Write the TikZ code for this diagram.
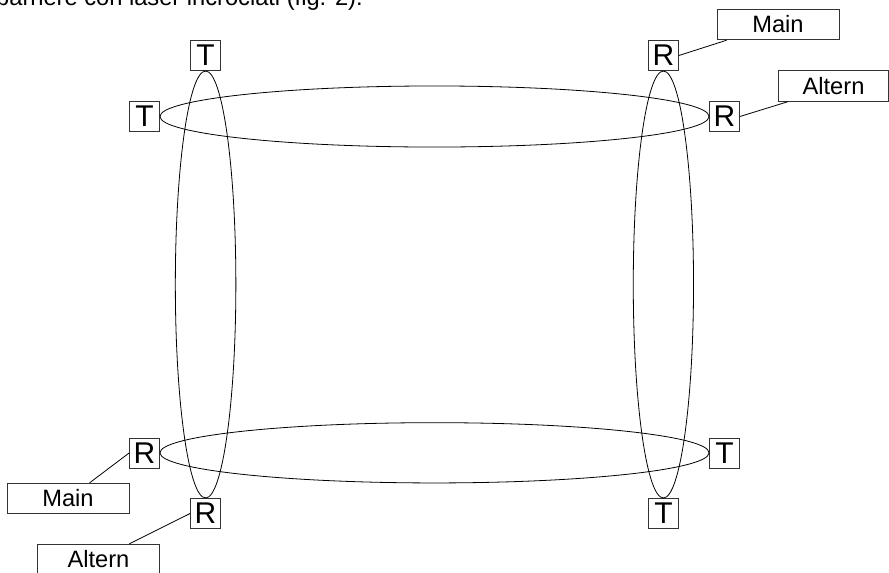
\documentclass[tikz,border=0pt]{standalone}
\usepackage{fontspec}
\setmainfont{Liberation Sans}
\usetikzlibrary{positioning}
\tikzset{
	unit/.style={rectangle, draw=black!80, line width=0.6pt, minimum width=22.5pt, minimum height=22.5pt, inner sep=0pt, font=\fontsize{22.5}{24}\selectfont},
	tag/.style={rectangle, draw=black!80, line width=0.6pt, minimum width=91.5pt, minimum height=23pt, inner sep=0pt, font=\fontsize{17.75}{20}\selectfont},
	beam/.style={draw=black, line width=0.6pt},
	link/.style={draw=black, line width=0.6pt},
}

\begin{document}
\begin{tikzpicture}[x=0.75pt, y=-0.75pt]
		\useasboundingbox (0,0) rectangle (889,572);
		\begin{scope}
			\clip (0,0) rectangle (889,572);
			\node[anchor=base east, inner sep=0pt, font=\fontsize{17.75}{20}\selectfont] (caption) at (363,5) {barriere con laser incrociati (fig. 2).};
			% transmitter / receiver units
			\node[unit] (tt) at (205.5,55.5) {T};
			\node[unit] (tl) at (144.5,116.5) {T};
			\node[unit] (rt) at (663.5,55.5) {R};
			\node[unit] (rr) at (724.5,116.5) {R};
			\node[unit] (rl) at (144.5,453) {R};
			\node[unit] (rb) at (205.5,513.5) {R};
			\node[unit] (tr) at (724.5,453) {T};
			\node[unit] (tb) at (663.5,513.5) {T};
			% beams
			\draw[beam] (434.5,116.5) ellipse [x radius=205.9pt, y radius=22.9pt];
			\draw[beam] (434.5,452.8) ellipse [x radius=205.9pt, y radius=22.6pt];
			\draw[beam] (205.6,284.5) ellipse [x radius=22.7pt, y radius=160.1pt];
			\draw[beam] (663.4,284.5) ellipse [x radius=22.6pt, y radius=160.1pt];
			% labels
			\node[tag] (mainr) at (778,24.5) {Main};
			\node[tag, minimum width=83pt] (altr) at (833.5,86) {Altern};
			\node[tag] (mainl) at (68,498.5) {Main};
			\node[tag] (altl) at (98.5,559.5) {Altern};
			\draw[link] (rt.east) -- (mainr.197);
			\draw[link] (rr.east) -- (altr.199);
			\draw[link] (rl.west) -- (mainl.36);
			\draw[link] (rb.west) -- (altl.27);
		\end{scope}
	\end{tikzpicture}
\end{document}
